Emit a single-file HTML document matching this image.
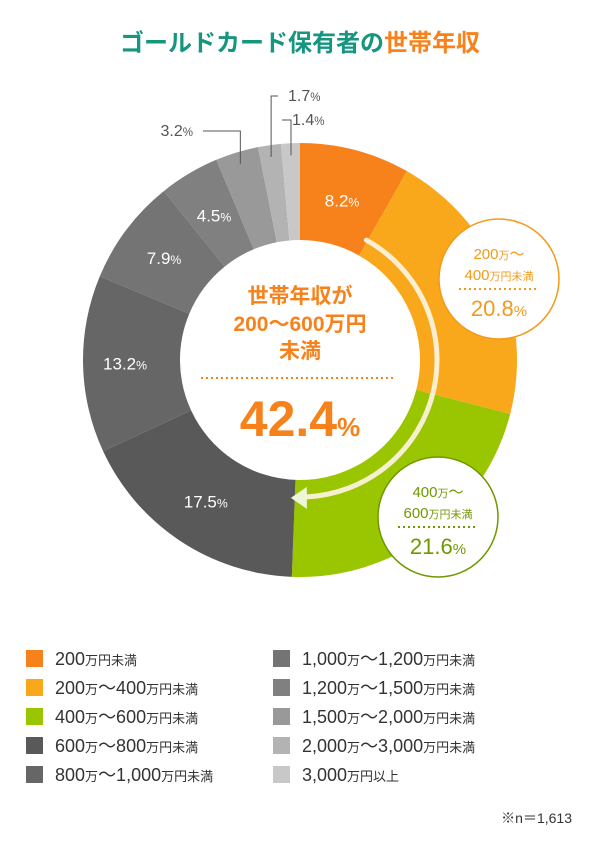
<!DOCTYPE html>
<html><head><meta charset="utf-8">
<style>
body{margin:0;background:#fff;width:600px;height:854px;overflow:hidden;font-family:"Liberation Sans","Noto Sans CJK JP",sans-serif;}
svg{display:block}
</style></head>
<body>
<svg id="chart" width="600" height="854" viewBox="0 0 600 854">
<text x="300" y="51" text-anchor="middle" font-size="24" font-weight="bold"><tspan fill="#16957f">ゴールドカード保有者の</tspan><tspan fill="#f7821b">世帯年収</tspan></text>
<g id="slices"></g>
<g id="labels"></g>
<g id="legend"></g>
<text x="572" y="823" text-anchor="end" font-size="14" fill="#333">※n＝1,613</text>
</svg>
<script>
const categories=["200万円未満","200万〜400万円未満","400万〜600万円未満","600万〜800万円未満","800万〜1,000万円未満","1,000万〜1,200万円未満","1,200万〜1,500万円未満","1,500万〜2,000万円未満","2,000万〜3,000万円未満","3,000万円以上"];
const values=[8.2,20.8,21.6,17.5,13.2,7.9,4.5,3.2,1.7,1.4];
const colors=["#f7821b","#f9a81b","#99c600","#595959","#666666","#747474","#808080","#999999","#b3b3b3","#c8c8c8"];
const legendNum=[["200","万円未満"],["200","万〜","400","万円未満"],["400","万〜","600","万円未満"],["600","万〜","800","万円未満"],["800","万〜","1,000","万円未満"],["1,000","万〜","1,200","万円未満"],["1,200","万〜","1,500","万円未満"],["1,500","万〜","2,000","万円未満"],["2,000","万〜","3,000","万円未満"],["3,000","万円以上"]];
const NS="http://www.w3.org/2000/svg";
const cx=300,cy=360,R=217,r=120;
const total=values.reduce((a,b)=>a+b,0);
function ang(v){return v/total*2*Math.PI;}
function pt(a,rad){return [cx+rad*Math.sin(a),cy-rad*Math.cos(a)];}
function mk(tag,attrs,parent){const e=document.createElementNS(NS,tag);for(const k in attrs)e.setAttribute(k,attrs[k]);parent.appendChild(e);return e;}
const gS=document.getElementById('slices'),gL=document.getElementById('labels'),gLeg=document.getElementById('legend');
let acc=0;const mids=[];
values.forEach((v,i)=>{
 const a0=ang(acc),a1=ang(acc+v);acc+=v;
 const [x0,y0]=pt(a0,R),[x1,y1]=pt(a1,R),[x2,y2]=pt(a1,r),[x3,y3]=pt(a0,r);
 const lg=(a1-a0)>Math.PI?1:0;
 const p=mk('path',{d:`M${x0},${y0}A${R},${R} 0 ${lg} 1 ${x1},${y1}L${x2},${y2}A${r},${r} 0 ${lg} 0 ${x3},${y3}Z`,fill:colors[i]},gS);
 
 
 mids.push((a0+a1)/2);
});
// inner labels
function pctLabel(i,x,y,fill,size,parent){
 const t=mk('text',{x:x,y:y,'text-anchor':'middle','font-size':size,fill:fill},parent);
 
 
 t.innerHTML=values[i].toFixed(1)+'<tspan font-size="'+(size*0.72)+'">%</tspan>';
 return t;
}
[0,3,4,5,6].forEach(i=>{const [x,y]=pt(mids[i],[165,0,0,170,175,170,168][i]);pctLabel(i,x,y+6,'#fff',17,gL);});
// outside labels
const outs=[[7,197,136,'end'],[8,284,101,'start'],[9,288,125,'start']];
outs.forEach(([i,tx,ty,anc])=>{
 const [px,py]=pt(mids[i],R-12);
 const lx=anc==='end'?tx+6:tx-6;
 const l=mk('path',{d:`M${px},${py}V${ty-5}H${lx}`,stroke:'#555','stroke-width':1,fill:'none'},gL);
 
 
 const t=pctLabel(i,tx+(anc==='end'?-4:4),ty,'#555',16,gL);t.setAttribute('text-anchor',anc);
});
// center circle text
const c=mk('g',{},gL);
c.innerHTML='<text x="300" y="303" text-anchor="middle" font-size="21" font-weight="bold" fill="#f7821b">世帯年収が</text><text x="300" y="331" text-anchor="middle" font-size="21" font-weight="bold" fill="#f7821b">200〜600万円</text><text x="300" y="358" text-anchor="middle" font-size="21" font-weight="bold" fill="#f7821b">未満</text><line x1="201" y1="378" x2="396" y2="378" stroke="#f7821b" stroke-width="2" stroke-dasharray="2 3"/>';
const sum=(values[1]+values[2]).toFixed(1);
mk('text',{x:300,y:436,'text-anchor':'middle','font-size':50,'font-weight':'bold',fill:'#f7821b'},c).innerHTML=sum+'<tspan font-size="26">%</tspan>';
// arrow arc
const ar=137,[sx,sy]=pt(ang(values[0])-0.01,ar),[ex,ey]=pt(Math.PI-0.05,ar);
const arc=mk('path',{d:`M${sx},${sy}A${ar},${ar} 0 0 1 ${ex},${ey}`,stroke:'#fbf2dc','stroke-width':5,fill:'none','stroke-linecap':'round',opacity:0.95},gL);

const ah=mk('path',{d:`M${ex-16},${ey+1}L${ex},${ey-10}L${ex},${ey+12}Z`,fill:'#eef6d8'},gL);

// callouts
function callout(i,x,y,col,l1,l2){
 const g=mk('g',{},gL);
 g.innerHTML=`<circle cx="${x}" cy="${y}" r="60" fill="#fff" stroke="${col}" stroke-width="1.5"/><text x="${x}" y="${y-20}" text-anchor="middle" font-size="15" fill="${col}">${l1}</text><text x="${x}" y="${y+1}" text-anchor="middle" font-size="15" fill="${col}">${l2}</text><line x1="${x-40}" y1="${y+10}" x2="${x+40}" y2="${y+10}" stroke="${col}" stroke-width="2" stroke-dasharray="2 3"/>`;
 const t=mk('text',{x:x,y:y+37,'text-anchor':'middle','font-size':22,fill:col},g);
 t.innerHTML=values[i].toFixed(1)+'<tspan font-size="15">%</tspan>';
}
callout(1,499,279,'#f29a1a','200<tspan font-size="11">万</tspan>〜','400<tspan font-size="11">万円未満</tspan>');
callout(2,438,517,'#6f9800','400<tspan font-size="11">万</tspan>〜','600<tspan font-size="11">万円未満</tspan>');
// legend
categories.forEach((cat,i)=>{
 const col=i<5?0:1,row=i%5;
 const x=col?273:26,y=650+row*29;
 const s=mk('rect',{x:x,y:y,width:17,height:17,fill:colors[i]},gLeg);
 
 const t=mk('text',{x:x+29,y:y+15,'font-size':18,fill:'#333'},gLeg);
 
 t.innerHTML=legendNum[i].map((p,k)=>/[0-9]/.test(p)?p:(p.startsWith('万〜')?'<tspan font-size="13">万</tspan>〜':'<tspan font-size="13">'+p+'</tspan>')).join('');
});
</script>
</body></html>
